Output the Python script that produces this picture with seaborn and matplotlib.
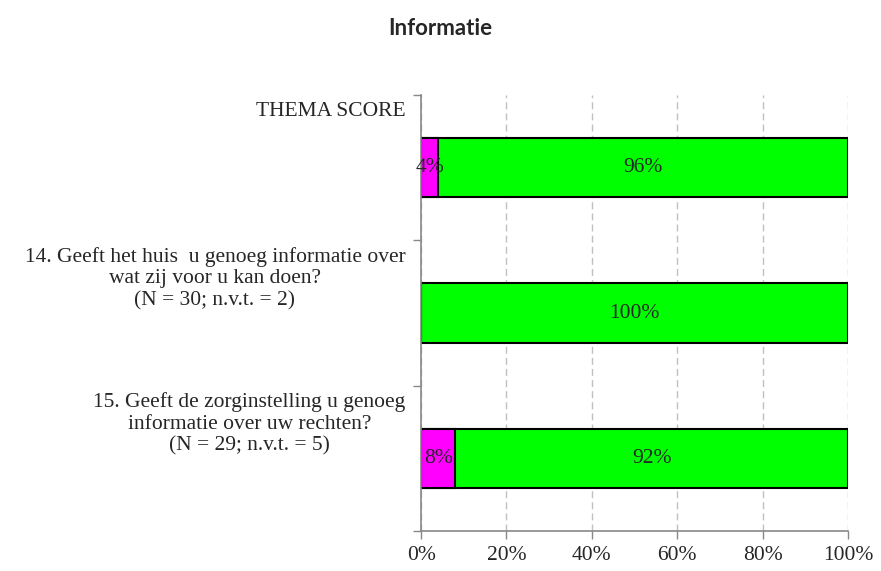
# Informatie: gestapelde horizontale balken (magenta / groen)

import numpy as np
import pandas as pd
import matplotlib
matplotlib.use('Agg')
import matplotlib.pyplot as plt
import seaborn as sns

categories = [
    "THEMA SCORE",
    "14. Geeft het huis  u genoeg informatie over\nwat zij voor u kan doen?\n(N = 30; n.v.t. = 2)",
    "15. Geeft de zorginstelling u genoeg\ninformatie over uw rechten?\n(N = 29; n.v.t. = 5)",
]
neg_pct = [4, 0, 8]      # magenta
pos_pct = [96, 100, 92]  # groen
x_ticks = [0, 20, 40, 60, 80, 100]

sns.set_style('white')
plt.rcParams['font.family'] = ['Liberation Serif', 'DejaVu Serif']

df = pd.DataFrame({'cat': categories, 'neg': neg_pct, 'pos': pos_pct})
df['total'] = df['neg'] + df['pos']

fig = plt.figure(figsize=(8.81, 5.71), dpi=100)
ax = fig.add_axes([0.478, 0.070, 0.4845, 0.7636])

# groen = totaal, magenta eroverheen vanaf 0
sns.barplot(data=df, x='total', y='cat', color='#00FF00', orient='h',
            width=0.41, edgecolor='black', linewidth=1.5, saturation=1, ax=ax)
sns.barplot(data=df, x='neg', y='cat', color='#FF00FF', orient='h',
            width=0.41, edgecolor='black', linewidth=1.5, saturation=1, ax=ax)

# labels in de balken
for i, (n, p) in enumerate(zip(neg_pct, pos_pct)):
    if n > 0:
        ax.text(n / 2, i, f"{n}%", ha='center', va='center', fontsize=15.5)
    if p > 0:
        ax.text(n + p / 2, i, f"{p}%", ha='center', va='center', fontsize=15.5)

ax.set_xlim(0, 100)
ax.set_ylim(2.5, -0.5)
ax.set_xticks(x_ticks)
ax.set_xticklabels([f"{t}%" for t in x_ticks], fontsize=15.5)
ax.set_yticks([-0.5, 0.5, 1.5, 2.5])
ax.set_yticklabels([])
ax.set_xlabel('')
ax.set_ylabel('')
ax.tick_params(axis='both', which='both', length=6, width=1, color='#888888',
               direction='out', pad=5, bottom=True, left=True)

# categorie-teksten bovenaan elke band
for i, c in enumerate(categories):
    ax.text(-0.037, (i - 0.5 + 0.045), c, transform=ax.get_yaxis_transform(),
            ha='right', va='top', multialignment='center', fontsize=15.5,
            linespacing=1.18)

ax.xaxis.grid(True, linestyle=(0, (5, 3)), color='#c0c0c0', linewidth=1)
ax.set_axisbelow(True)
for s in ['top', 'right']:
    ax.spines[s].set_visible(False)
for s in ['left', 'bottom']:
    ax.spines[s].set_color('#888888')
    ax.spines[s].set_linewidth(1.2)

fig.text(0.5, 0.950, 'Informatie', ha='center', va='center', fontsize=16,
         fontweight='bold', family=['Lato', 'DejaVu Sans'])

fig.savefig('out.png', dpi=100)
